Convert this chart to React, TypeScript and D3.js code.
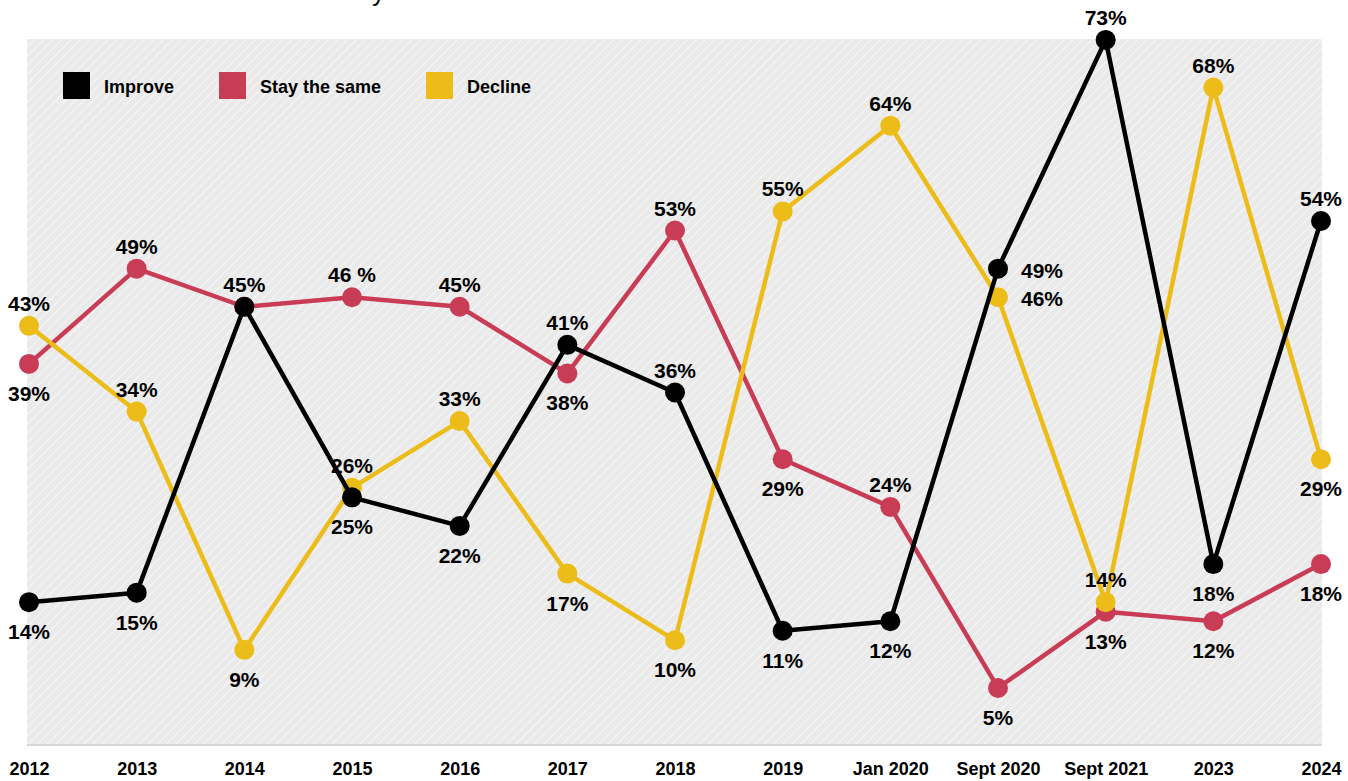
import { useEffect, useRef } from 'react'
import * as d3 from 'd3'

const periods = ['2012', '2013', '2014', '2015', '2016', '2017', '2018', '2019', 'Jan 2020', 'Sept 2020', 'Sept 2021', '2023', '2024']

const improve = [14, 15, 45, 25, 22, 41, 36, 11, 12, 49, 73, 18, 54]
const staySame = [39, 49, 45, 46, 45, 38, 53, 29, 24, 5, 13, 12, 18]
const decline = [43, 34, 9, 26, 33, 17, 10, 55, 64, 46, 14, 68, 29]

// label placement per point: a = above, b = below, r = right, '' = none
const improvePos = ['b', 'b', 'a', 'b', 'b', 'a', 'a', 'b', 'b', 'r', 'a', 'b', 'a']
const stayPos = ['b', 'a', '', 'a', 'a', 'b', 'a', 'b', 'a', 'b', 'b', 'b', 'b']
const declinePos = ['a', 'a', 'b', 'a', 'a', 'b', 'b', 'a', 'a', 'r', 'a', 'a', 'b']

const W = 1348
const H = 781
const FONT = '"Liberation Sans", Arial, Helvetica, sans-serif'

export default function App() {
  const svgRef = useRef<SVGSVGElement>(null)

  useEffect(() => {
    document.body.style.margin = '0'
    if (!svgRef.current) return
    const svg = d3.select(svgRef.current)
    svg.selectAll('*').remove()

    const plot = { left: 27, right: 1322, top: 39, bottom: 745 }

    const defs = svg.append('defs')
    const pat = defs.append('pattern')
      .attr('id', 'hatch').attr('patternUnits', 'userSpaceOnUse')
      .attr('width', 6.5).attr('height', 6.5)
      .attr('patternTransform', 'rotate(45)')
    pat.append('rect').attr('width', 6.5).attr('height', 6.5).attr('fill', '#eaeaea')
    pat.append('line').attr('x1', 0).attr('x2', 0).attr('y1', 0).attr('y2', 6.5)
      .attr('stroke', '#ffffff').attr('stroke-width', 1.3)

    // cut-off title descender at top
    svg.append('text').attr('x', 372).attr('y', 1).attr('font-family', FONT)
      .attr('font-size', 26).attr('fill', '#111').text('y')

    svg.append('rect')
      .attr('x', plot.left).attr('y', plot.top)
      .attr('width', plot.right - plot.left).attr('height', plot.bottom - plot.top)
      .attr('fill', 'url(#hatch)')
    svg.append('line')
      .attr('x1', plot.left).attr('x2', plot.right)
      .attr('y1', plot.bottom).attr('y2', plot.bottom)
      .attr('stroke', '#d6d6d6').attr('stroke-width', 2)

    const x = d3.scalePoint<string>().domain(periods).range([29, 1321])
    const y = d3.scaleLinear().domain([0, 100]).range([735.6, -217.4])

    // x axis labels
    const xAxis = svg.append('g').attr('transform', 'translate(0,775)')
      .call(d3.axisBottom(x).tickSize(0).tickPadding(0))
    xAxis.select('.domain').remove()
    xAxis.selectAll('text')
      .attr('dy', 0)
      .style('font-family', FONT).style('font-size', '18px').style('font-weight', 'bold').style('fill', '#000')

    const series = [
      { name: 'Stay the same', values: staySame, pos: stayPos, color: '#c93c56' },
      { name: 'Decline', values: decline, pos: declinePos, color: '#ecbd19' },
      { name: 'Improve', values: improve, pos: improvePos, color: '#000000' },
    ]

    const line = d3.line<number>().x((_, i) => x(periods[i])!).y(d => y(d))

    series.forEach(s => {
      svg.append('path').datum(s.values)
        .attr('fill', 'none').attr('stroke', s.color).attr('stroke-width', 4.5)
        .attr('stroke-linejoin', 'round').attr('d', line)
      svg.append('g').selectAll('circle').data(s.values).join('circle')
        .attr('cx', (_, i) => x(periods[i])!).attr('cy', d => y(d)).attr('r', 10)
        .attr('fill', s.color)
    })

    series.forEach(s => {
      const labels = s.values
        .map((v, i) => ({ v, i, pos: s.pos[i] }))
        .filter(d => d.pos !== '')
      svg.append('g').selectAll('text').data(labels).join('text')
        .attr('x', d => x(periods[d.i])! + (d.pos === 'r' ? 23 : 0))
        .attr('y', d => y(d.v) + (d.pos === 'a' ? -15 : d.pos === 'b' ? 37 : 9))
        .attr('text-anchor', d => (d.pos === 'r' ? 'start' : 'middle'))
        .attr('font-family', FONT).attr('font-size', 21).attr('font-weight', 'bold').attr('fill', '#000')
        .text(d => (s.name === 'Stay the same' && periods[d.i] === '2015' ? `${d.v} %` : `${d.v}%`))
    })

    // legend
    const legend = [
      { name: 'Improve', color: '#000000' },
      { name: 'Stay the same', color: '#c93c56' },
      { name: 'Decline', color: '#ecbd19' },
    ]
    const legendX = [63, 219, 426]
    legend.forEach((l, i) => {
      svg.append('rect').attr('x', legendX[i]).attr('y', 72).attr('width', 27).attr('height', 27).attr('fill', l.color)
      svg.append('text').attr('x', legendX[i] + 41).attr('y', 93)
        .attr('font-family', FONT).attr('font-size', 18).attr('font-weight', 'bold').attr('fill', '#000')
        .text(l.name)
    })
  }, [])

  return <svg ref={svgRef} width={W} height={H} style={{ display: 'block' }} />
}
